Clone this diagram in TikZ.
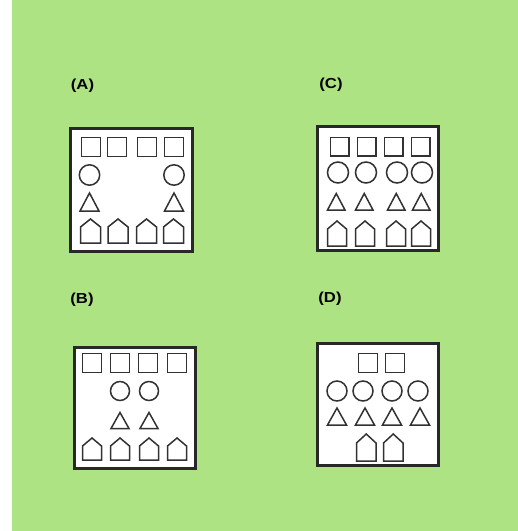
\documentclass[tikz,border=0pt]{standalone}
\usepackage{fontspec}
\setmainfont{Liberation Sans}
\usepackage{tikz}
\definecolor{bggreen}{RGB}{174,227,131}
\definecolor{inkgray}{RGB}{50,50,50}

\begin{document}
\begin{tikzpicture}[x=1pt,y=-1pt,
  panel/.style={draw=inkgray!80!black,line width=2.6pt,fill=white},
  shp/.style={draw=inkgray,line width=1.5pt},
  lbl/.style={font=\fontsize{14.5}{16}\selectfont\bfseries,xscale=1.15,inner sep=0pt}]
\useasboundingbox (0,0) rectangle (518,531);
% Background
\fill[bggreen] (12,0) rectangle (518,531);
% Labels
\node[lbl] (labelA) at (82.5,86) {(A)};
\node[lbl] (labelC) at (331,85) {(C)};
\node[lbl] (labelB) at (82,300) {(B)};
\node[lbl] (labelD) at (330,298.5) {(D)};
% Panels
\draw[panel] (70.3,128.3) rectangle (192.7,251.7);
\draw[panel] (317.3,126.3) rectangle (438.7,250.7);
\draw[panel] (74.3,347.3) rectangle (195.7,468.7);
\draw[panel] (317.3,343.3) rectangle (438.7,465.7);
% (A) squares
\draw[shp] (81.5,137.5) rectangle ++(19,19);
\draw[shp] (107.5,137.5) rectangle ++(19,19);
\draw[shp] (137.5,137.5) rectangle ++(19,19);
\draw[shp] (164.5,137.5) rectangle ++(19,19);
% (A) circles
\draw[shp] (89.5,175) circle (10.2);
\draw[shp] (174,175) circle (10.2);
% (A) triangles
\draw[shp] (80,211) -- ++(19,0) -- ++(-9.5,-18) -- cycle;
\draw[shp] (164.5,211) -- ++(19,0) -- ++(-9.5,-18) -- cycle;
% (A) houses
\draw[shp] (80.5,243) -- ++(20,0) -- ++(0,-16) -- ++(-10,-8) -- ++(-10,8) -- cycle;
\draw[shp] (108,243) -- ++(20,0) -- ++(0,-16) -- ++(-10,-8) -- ++(-10,8) -- cycle;
\draw[shp] (136.5,243) -- ++(20,0) -- ++(0,-16) -- ++(-10,-8) -- ++(-10,8) -- cycle;
\draw[shp] (163.5,243) -- ++(20,0) -- ++(0,-16) -- ++(-10,-8) -- ++(-10,8) -- cycle;
% (C) squares
\draw[shp] (330.5,137.5) rectangle ++(18.5,18.5);
\draw[shp] (357.5,137.5) rectangle ++(18.5,18.5);
\draw[shp] (384.5,137.5) rectangle ++(18.5,18.5);
\draw[shp] (411.5,137.5) rectangle ++(18.5,18.5);
% (C) circles
\draw[shp] (338,172.5) circle (10.5);
\draw[shp] (366,172.5) circle (10.5);
\draw[shp] (397,172.5) circle (10.5);
\draw[shp] (422,172.5) circle (10.5);
% (C) triangles
\draw[shp] (327.5,210) -- ++(17.5,0) -- ++(-8.75,-16.5) -- cycle;
\draw[shp] (355.5,210) -- ++(17.5,0) -- ++(-8.75,-16.5) -- cycle;
\draw[shp] (387.5,210) -- ++(17.5,0) -- ++(-8.75,-16.5) -- cycle;
\draw[shp] (412.5,210) -- ++(17.5,0) -- ++(-8.75,-16.5) -- cycle;
% (C) houses
\draw[shp] (327.5,246) -- ++(19,0) -- ++(0,-17) -- ++(-9.5,-8) -- ++(-9.5,8) -- cycle;
\draw[shp] (355.5,246) -- ++(19,0) -- ++(0,-17) -- ++(-9.5,-8) -- ++(-9.5,8) -- cycle;
\draw[shp] (386.5,246) -- ++(19,0) -- ++(0,-17) -- ++(-9.5,-8) -- ++(-9.5,8) -- cycle;
\draw[shp] (411.5,246) -- ++(19,0) -- ++(0,-17) -- ++(-9.5,-8) -- ++(-9.5,8) -- cycle;
% (B) squares
\draw[shp] (82.5,353.5) rectangle ++(19,19);
\draw[shp] (110.5,353.5) rectangle ++(19,19);
\draw[shp] (138.5,353.5) rectangle ++(19,19);
\draw[shp] (167.5,353.5) rectangle ++(19,19);
% (B) circles
\draw[shp] (120,391) circle (9.5);
\draw[shp] (149,391) circle (9.5);
% (B) triangles
\draw[shp] (111,428.5) -- ++(18,0) -- ++(-9,-16) -- cycle;
\draw[shp] (140,428.5) -- ++(18,0) -- ++(-9,-16) -- cycle;
% (B) houses
\draw[shp] (82.5,460) -- ++(19,0) -- ++(0,-14) -- ++(-9.5,-8) -- ++(-9.5,8) -- cycle;
\draw[shp] (110.5,460) -- ++(19,0) -- ++(0,-14) -- ++(-9.5,-8) -- ++(-9.5,8) -- cycle;
\draw[shp] (139.5,460) -- ++(19,0) -- ++(0,-14) -- ++(-9.5,-8) -- ++(-9.5,8) -- cycle;
\draw[shp] (167.5,460) -- ++(19,0) -- ++(0,-14) -- ++(-9.5,-8) -- ++(-9.5,8) -- cycle;
% (D) squares
\draw[shp] (358.5,353.5) rectangle ++(19,19);
\draw[shp] (385.5,353.5) rectangle ++(19,19);
% (D) circles
\draw[shp] (337,391) circle (10);
\draw[shp] (363,391) circle (10);
\draw[shp] (392,391) circle (10);
\draw[shp] (418,391) circle (10);
% (D) triangles
\draw[shp] (327.5,425) -- ++(19,0) -- ++(-9.5,-17) -- cycle;
\draw[shp] (355.5,425) -- ++(19,0) -- ++(-9.5,-17) -- cycle;
\draw[shp] (382.5,425) -- ++(19,0) -- ++(-9.5,-17) -- cycle;
\draw[shp] (410.5,425) -- ++(19,0) -- ++(-9.5,-17) -- cycle;
% (D) houses
\draw[shp] (356.5,461) -- ++(19.5,0) -- ++(0,-18) -- ++(-9.75,-9) -- ++(-9.75,9) -- cycle;
\draw[shp] (383.5,461) -- ++(19.5,0) -- ++(0,-18) -- ++(-9.75,-9) -- ++(-9.75,9) -- cycle;
\end{tikzpicture}
\end{document}
